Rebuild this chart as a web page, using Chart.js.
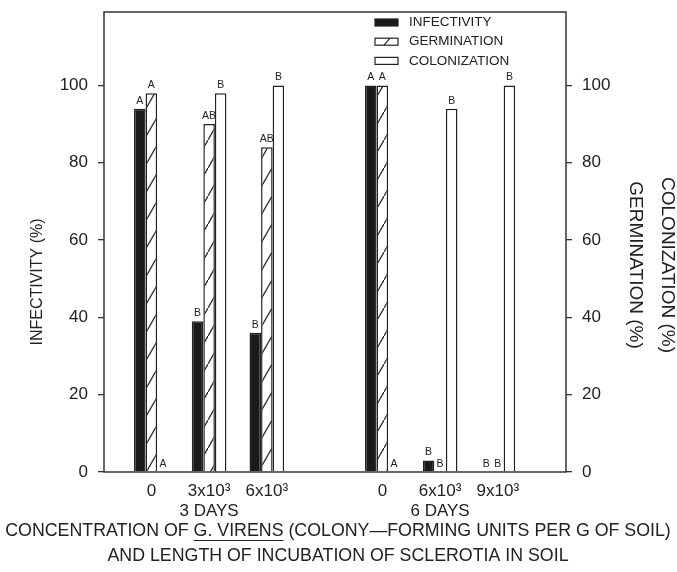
<!DOCTYPE html>
<html>
<head>
<meta charset="utf-8">
<script src="https://cdn.jsdelivr.net/npm/chart.js@4.4.1/dist/chart.umd.min.js"></script>
<style>
  html, body { margin: 0; padding: 0; background: #fff; }
</style>
</head>
<body>
<canvas id="chart" width="677" height="572"></canvas>
<script>
// positions on the x axis (one empty slot between the two incubation periods)
const positions = [1, 2, 3, 5, 6, 7];
const concentrations = ["0", "3x10³", "6x10³", "0", "6x10³", "9x10³"];
const periods = ["3 DAYS", "6 DAYS"];
const periodPositions = [2, 6];

const infectivity = [94, 39, 36, 100, 3, 0];
const germination = [98, 90, 84, 100, 0, 0];
const colonization = [0, 98, 100, 0, 94, 100];

const infectivityLetters = ["A", "B", "B", "A", "B", "B"];
const germinationLetters = ["A", "AB", "AB", "A", "B", "B"];
const colonizationLetters = ["A", "B", "B", "A", "B", "B"];

const xTitle = ["CONCENTRATION OF G. VIRENS (COLONY—FORMING UNITS PER G OF SOIL)",
                "AND LENGTH OF INCUBATION OF SCLEROTIA IN SOIL"];
const leftTitle = "INFECTIVITY (%)";
const rightTitle = ["COLONIZATION (%)", "GERMINATION (%)"];

const FONT = '"Liberation Sans", Arial, Helvetica, sans-serif';
const INK = "#222";

const canvas = document.getElementById("chart");
const ctx = canvas.getContext("2d");

// diagonal hatch for germination
function makeHatch() {
  const c = document.createElement("canvas");
  c.width = 16;
  c.height = 28;
  const g = c.getContext("2d");
  g.fillStyle = "#fff";
  g.fillRect(0, 0, 16, 28);
  g.strokeStyle = INK;
  g.lineWidth = 1.2;
  g.beginPath();
  g.moveTo(-1, 29.75);
  g.lineTo(17, -1.75);
  g.stroke();
  return ctx.createPattern(c, "repeat");
}

const toPoints = (vals) => vals.map((v, i) => ({ x: positions[i], y: v }));

// plot frame
const framePlugin = {
  id: "frame",
  afterDatasetsDraw(chart) {
    const a = chart.chartArea;
    const c = chart.ctx;
    c.save();
    c.strokeStyle = "#333";
    c.lineWidth = 1.5;
    c.strokeRect(a.left, a.top, a.right - a.left, a.bottom - a.top);
    c.restore();
  }
};

// significance letters above each bar
const letterPlugin = {
  id: "letters",
  afterDatasetsDraw(chart) {
    const c = chart.ctx;
    c.save();
    c.font = "10.5px " + FONT;
    c.fillStyle = INK;
    c.textAlign = "center";
    c.textBaseline = "alphabetic";
    chart.data.datasets.forEach((ds, di) => {
      const meta = chart.getDatasetMeta(di);
      meta.data.forEach((el, i) => {
        c.fillText(ds.letters[i], el.x, Math.min(el.y, el.base) - 5);
      });
    });
    c.restore();
  }
};

// legend inside the plot, top right
const legendPlugin = {
  id: "boxLegend",
  afterDraw(chart) {
    const c = chart.ctx;
    const a = chart.chartArea;
    const x0 = a.left + 271;
    c.save();
    c.font = "13.5px " + FONT;
    c.textBaseline = "middle";
    chart.data.datasets.forEach((ds, i) => {
      const y = a.top + 10.5 + i * 19.2;
      c.fillStyle = i === 0 ? "#1a1a1a" : "#fff";
      c.fillRect(x0, y - 3.5, 23, 7);
      c.strokeStyle = INK;
      c.lineWidth = 1.2;
      c.strokeRect(x0, y - 3.5, 23, 7);
      if (i === 1) {
        c.beginPath();
        c.moveTo(x0 + 9, y + 3.5);
        c.lineTo(x0 + 15, y - 3.5);
        c.stroke();
      }
      c.fillStyle = INK;
      c.fillText(ds.label, x0 + 34, y);
    });
    c.restore();
  }
};

// axis titles (drawn here so the long x title is not squeezed)
const titlePlugin = {
  id: "axisTitles",
  afterDraw(chart) {
    const c = chart.ctx;
    c.save();
    c.fillStyle = INK;
    c.textAlign = "center";
    c.textBaseline = "middle";

    c.save();
    c.font = "16px " + FONT;
    c.translate(38, 282);
    c.rotate(-Math.PI / 2);
    c.fillText(leftTitle, 0, 0);
    c.restore();

    c.save();
    c.font = "19px " + FONT;
    c.translate(667, 265);
    c.rotate(Math.PI / 2);
    c.fillText(rightTitle[0], 0, 0);
    c.fillText(rightTitle[1], 0, 32);
    c.restore();

    const xs = chart.scales.x;
    const cx = 338;
    const y1 = xs.bottom - 41;
    c.font = "17.8px " + FONT;
    c.fillText(xTitle[0], cx, y1);
    c.fillText(xTitle[1], cx, y1 + 25);

    // underline "G. VIRENS"
    const full = c.measureText(xTitle[0]).width;
    const pre = c.measureText("CONCENTRATION OF ").width;
    const und = c.measureText("G. VIRENS").width;
    const ux = cx - full / 2 + pre;
    c.strokeStyle = INK;
    c.lineWidth = 1.2;
    c.beginPath();
    c.moveTo(ux, y1 + 9.5);
    c.lineTo(ux + und, y1 + 9.5);
    c.stroke();
    c.restore();
  }
};

const barStyle = {
  borderColor: INK,
  borderWidth: 1.5,
  barPercentage: 1,
  categoryPercentage: 0.6
};

const fitY = (width) => (scale) => {
  scale.width = width;
  scale.paddingTop = 0;
  scale.paddingBottom = 0;
};

new Chart(ctx, {
  type: "bar",
  data: {
    datasets: [
      Object.assign({ label: "INFECTIVITY", data: toPoints(infectivity), backgroundColor: "#1a1a1a",
        yAxisID: "y", letters: infectivityLetters }, barStyle),
      Object.assign({ label: "GERMINATION", data: toPoints(germination), backgroundColor: makeHatch(),
        yAxisID: "y1", letters: germinationLetters }, barStyle),
      Object.assign({ label: "COLONIZATION", data: toPoints(colonization), backgroundColor: "#fff",
        yAxisID: "y1", letters: colonizationLetters }, barStyle)
    ]
  },
  options: {
    responsive: false,
    animation: false,
    devicePixelRatio: 1,
    layout: { padding: { left: 0, right: 0, top: 12, bottom: 0 } },
    plugins: {
      legend: { display: false },
      tooltip: { enabled: false }
    },
    scales: {
      x: {
        type: "linear",
        offset: false,
        min: 0.18,
        max: 8.18,
        grid: { display: false, drawTicks: false, offset: false },
        border: { display: false },
        afterBuildTicks: (scale) => {
          scale.ticks = positions.map((v) => ({ value: v }));
        },
        afterFit: (scale) => {
          scale.height = 100;
          scale.paddingLeft = 0;
          scale.paddingRight = 0;
        },
        ticks: {
          autoSkip: false,
          maxRotation: 0,
          padding: 9,
          color: INK,
          font: { family: FONT, size: 17 },
          callback: (value) => {
            const i = positions.indexOf(value);
            const p = periodPositions.indexOf(value);
            return p >= 0 ? [concentrations[i], periods[p]] : concentrations[i];
          }
        }
      },
      y: {
        position: "left",
        min: 0,
        max: 119,
        afterFit: fitY(104),
        grid: { drawOnChartArea: false, drawTicks: true, tickLength: 6, color: "#333", lineWidth: 1.3 },
        border: { display: false },
        ticks: {
          stepSize: 20,
          padding: 10,
          color: INK,
          font: { family: FONT, size: 17 },
          callback: (v) => (v > 100 ? null : v)
        }
      },
      y1: {
        position: "right",
        min: 0,
        max: 119,
        afterFit: fitY(111),
        grid: { drawOnChartArea: false, drawTicks: true, tickLength: 6, color: "#333", lineWidth: 1.3 },
        border: { display: false },
        ticks: {
          stepSize: 20,
          padding: 10,
          color: INK,
          font: { family: FONT, size: 17 },
          callback: (v) => (v > 100 ? null : v)
        }
      }
    }
  },
  plugins: [framePlugin, letterPlugin, legendPlugin, titlePlugin]
});
</script>
</body>
</html>
